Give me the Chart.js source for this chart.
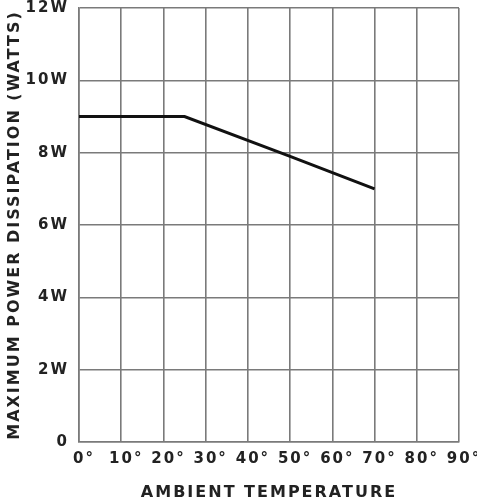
<!DOCTYPE html>
<html>
<head>
<meta charset="utf-8">
<script src="https://cdn.jsdelivr.net/npm/chart.js@4/dist/chart.umd.min.js"></script>
<style>
  html, body { margin: 0; padding: 0; background: #fff; }
  #wrap { width: 477px; height: 504px; }
</style>
</head>
<body>
<div id="wrap"><canvas id="myChart"></canvas></div>
<script>
// derating curve
var temps = [0, 10, 20, 25, 50, 70];
var watts = [9, 9, 9, 9, 7.9, 7];
var xTicks = [0, 10, 20, 30, 40, 50, 60, 70, 80, 90];
var yTicks = [0, 2, 4, 6, 8, 10, 12];

var points = temps.map(function(t, i) { return { x: t, y: watts[i] }; });

// wide letters like the printed sheet
var spacing = {
    id: 'spacing',
    beforeLayout: function(chart) { chart.ctx.letterSpacing = '2px'; },
    beforeDraw: function(chart) { chart.ctx.letterSpacing = '2px'; }
};

var fam = 'DejaVu Sans, Verdana, sans-serif';
var labelFont = { family: fam, size: 15, weight: 'bold' };
var gridColor = '#7a7a7a';

var ctx = document.getElementById('myChart').getContext('2d');
var chart = new Chart(ctx, {
    type: 'line',
    data: {
        datasets: [{
            data: points,
            borderColor: '#111',
            borderWidth: 3,
            pointRadius: 0,
            tension: 0,
            fill: false
        }]
    },
    options: {
        responsive: true,
        maintainAspectRatio: false,
        animation: false,
        layout: { padding: 0 },
        plugins: {
            legend: { display: false },
            tooltip: { enabled: false }
        },
        scales: {
            x: {
                type: 'linear',
                min: 0,
                max: 90,
                afterBuildTicks: function(axis) {
                    axis.ticks = xTicks.map(function(v) { return { value: v }; });
                },
                afterFit: function(axis) {
                    axis.height = 62;
                    axis.paddingLeft = 0;
                    axis.paddingRight = 18;
                },
                ticks: {
                    font: labelFont,
                    color: '#222',
                    padding: 8,
                    maxRotation: 0,
                    autoSkip: false,
                    labelOffset: 5,
                    callback: function(v) { return v + '°'; }
                },
                grid: { color: gridColor, lineWidth: 1.6, drawTicks: false },
                border: { color: gridColor, width: 1.6 },
                title: {
                    display: true,
                    text: 'AMBIENT TEMPERATURE',
                    font: { family: fam, size: 16, weight: 'bold' },
                    color: '#222',
                    padding: { top: 0, bottom: 2 }
                }
            },
            y: {
                min: 0,
                max: 12,
                afterBuildTicks: function(axis) {
                    axis.ticks = yTicks.map(function(v) { return { value: v }; });
                },
                afterFit: function(axis) {
                    axis.width = 79;
                    axis.paddingTop = 8;
                    axis.paddingBottom = 0;
                },
                ticks: {
                    font: labelFont,
                    color: '#222',
                    padding: 10,
                    callback: function(v) { return v === 0 ? '0' : v + 'W'; }
                },
                grid: { color: gridColor, lineWidth: 1.6, drawTicks: false },
                border: { color: gridColor, width: 1.6 },
                title: {
                    display: true,
                    text: 'MAXIMUM POWER DISSIPATION (WATTS)',
                    font: { family: fam, size: 16, weight: 'bold' },
                    color: '#222',
                    padding: { top: 5, bottom: 0 }
                }
            }
        }
    },
    plugins: [spacing]
});
</script>
</body>
</html>
